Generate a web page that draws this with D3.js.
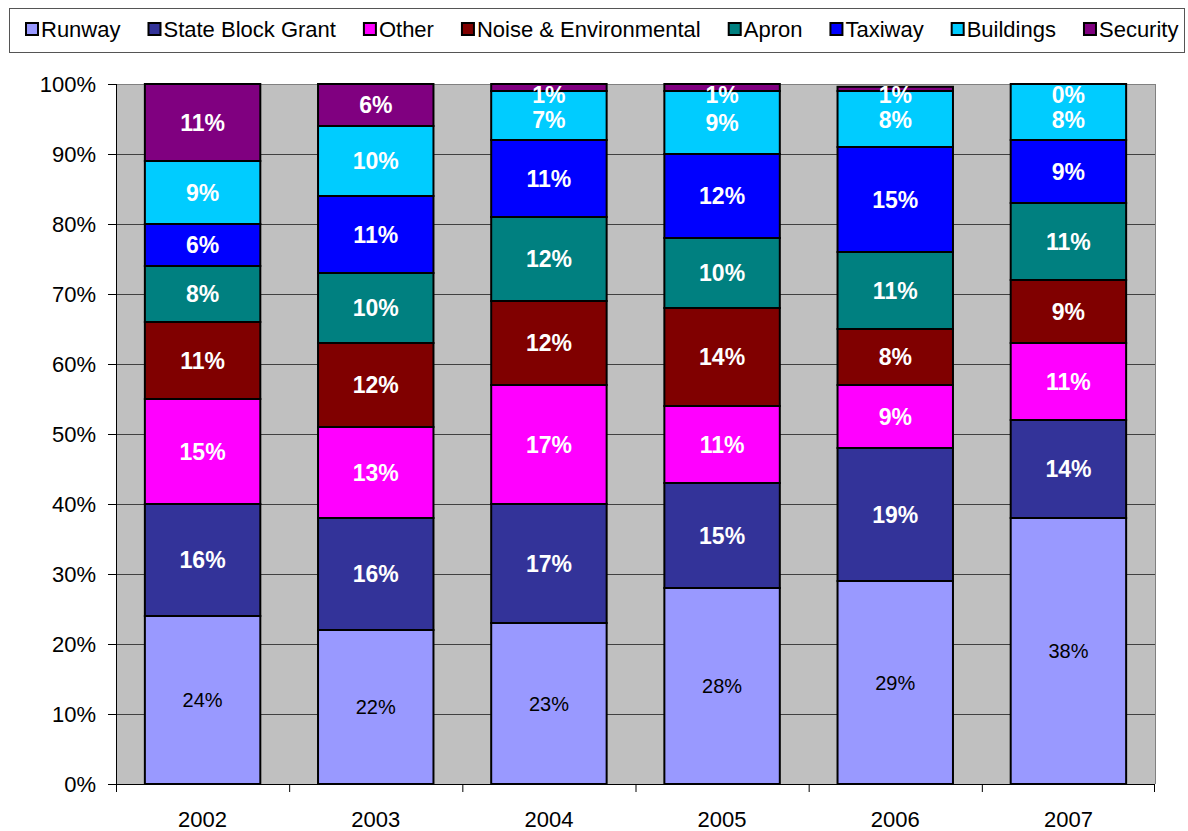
<!DOCTYPE html>
<html>
<head>
<meta charset="utf-8">
<script src="https://cdn.jsdelivr.net/npm/d3@7"></script>
<style>
  body { margin: 0; background: #fff; }
  text { font-family: "Liberation Sans", Arial, sans-serif; }
</style>
</head>
<body>
<script>
// categories + series (percent of each year's total)
const years = ["2002", "2003", "2004", "2005", "2006", "2007"];
const seriesNames = ["Runway", "State Block Grant", "Other", "Noise & Environmental",
                     "Apron", "Taxiway", "Buildings", "Security"];
const seriesColors = ["#9999FF", "#333399", "#FF00FF", "#800000",
                      "#008080", "#0000FF", "#00CCFF", "#800080"];

const runway      = [24, 22, 23, 28, 29, 38];
const blockGrant  = [16, 16, 17, 15, 19, 14];
const other       = [15, 13, 17, 11,  9, 11];
const noise       = [11, 12, 12, 14,  8,  9];
const apron       = [ 8, 10, 12, 10, 11, 11];
const taxiway     = [ 6, 11, 11, 12, 15,  9];
const buildings   = [ 9, 10,  7,  9,  8,  8];
const security    = [11,  6,  1,  1, 0.6, 0];

const yTicks = [0, 10, 20, 30, 40, 50, 60, 70, 80, 90, 100];

const allSeries = [runway, blockGrant, other, noise, apron, taxiway, buildings, security];

// table for d3.stack
const table = years.map((y, i) => {
  const row = { year: y };
  seriesNames.forEach((s, k) => row[s] = allSeries[k][i]);
  return row;
});

const outerWidth = 1188, outerHeight = 831;
const margin = { top: 84, right: 33, bottom: 47, left: 116 };
const width = outerWidth - margin.left - margin.right;
const height = outerHeight - margin.top - margin.bottom;

const outerSvg = d3.select("body").append("svg")
  .attr("width", outerWidth)
  .attr("height", outerHeight);

const svg = outerSvg.append("g")
  .attr("transform", "translate(" + margin.left + "," + margin.top + ")");

const xScale = d3.scaleBand().domain(years).range([0, width]).paddingInner(1/3).paddingOuter(1/6);
const xBound = d3.scaleBand().domain(years).range([0, width]);
const yScale = d3.scaleLinear().domain([0, 100]).range([height, 0]);

// plot background
svg.append("rect")
  .attr("width", width).attr("height", height)
  .attr("fill", "#C0C0C0");

// gridlines
svg.append("g").selectAll("line")
  .data(yTicks.filter(d => d > 0))
  .join("line")
  .attr("x1", 0).attr("x2", width)
  .attr("y1", d => yScale(d) + 0.5).attr("y2", d => yScale(d) + 0.5)
  .attr("stroke", d => d === 100 ? "#808080" : "#404040")
  .attr("stroke-width", 1);

// right border
svg.append("line")
  .attr("x1", width + 0.5).attr("x2", width + 0.5)
  .attr("y1", 0).attr("y2", height)
  .attr("stroke", "#808080");

const stacked = d3.stack().keys(seriesNames)(table);

const layers = svg.append("g").selectAll("g")
  .data(stacked)
  .join("g")
  .attr("fill", (d, i) => seriesColors[i]);

layers.selectAll("rect")
  .data(d => d)
  .join("rect")
  .attr("x", d => xScale(d.data.year))
  .attr("width", xScale.bandwidth())
  .attr("y", d => yScale(d[1]))
  .attr("height", d => yScale(d[0]) - yScale(d[1]))
  .attr("stroke", "#000")
  .attr("stroke-width", 2);

// label positions: segment middle, but keep the top labels inside the plot
// and push crowded labels apart (like the original does)
const labelY = stacked.map(() => []);
years.forEach((y, i) => {
  let prev = 11 - 25;
  for (let k = stacked.length - 1; k >= 0; k--) {
    const d = stacked[k][i];
    const mid = yScale((d[0] + d[1]) / 2);
    const pos = Math.max(mid, prev + 25);
    labelY[k][i] = pos;
    prev = pos;
  }
});

stacked.forEach((layer, k) => {
  svg.append("g").selectAll("text")
    .data(layer)
    .join("text")
    .attr("x", d => xScale(d.data.year) + xScale.bandwidth() / 2)
    .attr("y", (d, i) => labelY[k][i])
    .attr("dy", "0.36em")
    .attr("text-anchor", "middle")
    .attr("fill", k === 0 ? "#000" : "#fff")
    .attr("font-weight", k === 0 ? "normal" : "bold")
    .attr("font-size", k === 0 ? "20px" : "23px")
    .text(d => Math.round(d[1] - d[0]) + "%");
});

// y axis
const yAxis = d3.axisLeft(yScale).tickValues(yTicks).tickSize(8).tickPadding(12)
  .tickFormat(d => d + "%");
const yg = svg.append("g").call(yAxis);
yg.select(".domain").attr("stroke", "#000").attr("d", "M0.5," + height + "V0");
yg.selectAll(".tick line").attr("stroke", "#000");
yg.selectAll("text").attr("font-size", "22px").attr("fill", "#000")
  .style("font-family", "'Liberation Sans', Arial, sans-serif");

// x axis
const xg = svg.append("g").attr("transform", "translate(0," + height + ")");
xg.append("line").attr("x1", 0).attr("x2", width).attr("y1", 0.5).attr("y2", 0.5).attr("stroke", "#000");
xg.selectAll(".xt")
  .data(years.concat(["end"]))
  .join("line")
  .attr("class", "xt")
  .attr("x1", (d, i) => i < years.length ? xBound(d) + 0.5 : width - 0.5)
  .attr("x2", (d, i) => i < years.length ? xBound(d) + 0.5 : width - 0.5)
  .attr("y1", 0).attr("y2", 8)
  .attr("stroke", "#000");
xg.selectAll(".xl")
  .data(years)
  .join("text")
  .attr("class", "xl")
  .attr("x", d => xScale(d) + xScale.bandwidth() / 2)
  .attr("y", 43)
  .attr("text-anchor", "middle")
  .attr("font-size", "22px")
  .text(d => d);

// legend
const legend = outerSvg.append("g");
legend.append("rect")
  .attr("x", 9.5).attr("y", 8.5).attr("width", 1175).attr("height", 44)
  .attr("fill", "#fff").attr("stroke", "#555").attr("stroke-width", 1);

let lx = 26;
seriesNames.forEach((name, i) => {
  const g = legend.append("g").attr("transform", "translate(" + lx + ",23)");
  g.append("rect").attr("width", 12).attr("height", 12)
    .attr("fill", seriesColors[i]).attr("stroke", "#000").attr("stroke-width", 2);
  const t = g.append("text").attr("x", 15).attr("y", 13.5)
    .attr("font-size", "22px").text(name);
  lx += 15 + t.node().getComputedTextLength() + 28;
});
</script>
</body>
</html>
